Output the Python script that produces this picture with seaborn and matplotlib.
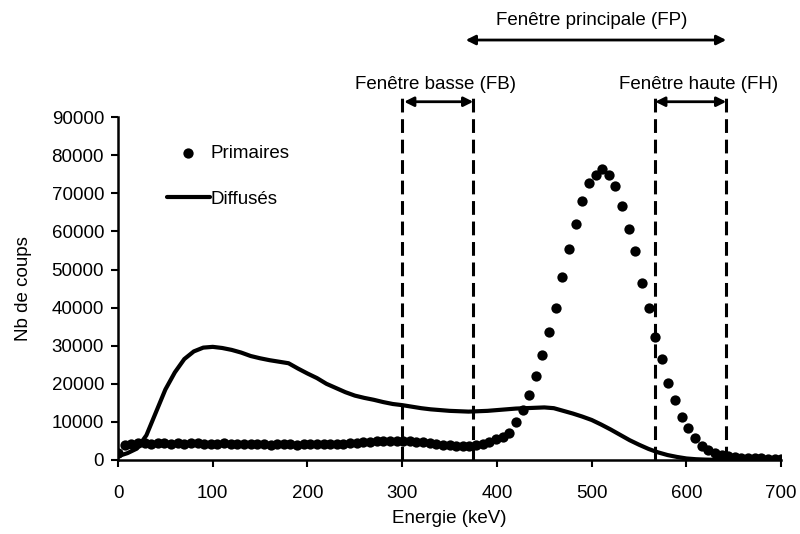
import matplotlib
matplotlib.use("Agg")
import matplotlib.pyplot as plt
import seaborn as sns
import pandas as pd

# ---------------- data ----------------
prim_energy = [0, 7, 14, 21, 28, 35, 42, 49, 56, 63, 70, 77, 84, 91, 98, 105, 112, 119, 126, 133,
               140, 147, 154, 161, 168, 175, 182, 189, 196, 203, 210, 217, 224, 231, 238, 245, 252,
               259, 266, 273, 280, 287, 294, 301, 308, 315, 322, 329, 336, 343, 350, 357, 364, 371,
               378, 385, 392, 399, 406, 413, 420, 427, 434, 441, 448, 455, 462, 469, 476, 483, 490,
               497, 504, 511, 518, 525, 532, 539, 546, 553, 560, 567, 574, 581, 588, 595, 602, 609,
               616, 623, 630, 637, 644, 651, 658, 665, 672, 679, 686, 693, 700]
prim_counts = [1800, 4000, 4300, 4400, 4500, 4300, 4400, 4500, 4200, 4400, 4300, 4500, 4400, 4300,
               4200, 4300, 4400, 4200, 4100, 4300, 4200, 4100, 4200, 4000, 4100, 4200, 4100, 4000,
               4100, 4200, 4100, 4200, 4300, 4200, 4300, 4400, 4500, 4600, 4700, 4900, 5000, 5100,
               5000, 5100, 4900, 4800, 4600, 4400, 4200, 4000, 3900, 3800, 3700, 3800, 4000, 4300,
               4800, 5400, 6000, 7200, 10000, 13000, 17000, 22000, 27500, 33500, 40000, 48000,
               55500, 62000, 68000, 72800, 74800, 76400, 74800, 72000, 66700, 60600, 54900, 46400,
               39900, 32300, 26500, 20200, 15700, 11300, 8400, 5800, 3700, 2600, 1800, 1300, 1000,
               800, 650, 550, 450, 400, 350, 300, 300]

diff_energy = [0, 10, 20, 30, 40, 50, 60, 70, 80, 90, 100, 110, 120, 130, 140, 150, 160, 170, 180,
               190, 200, 210, 220, 230, 240, 250, 260, 270, 280, 290, 300, 310, 320, 330, 340, 350,
               360, 370, 380, 390, 400, 410, 420, 430, 440, 450, 460, 470, 480, 490, 500, 510, 520,
               530, 540, 550, 560, 570, 580, 590, 600, 610, 620, 630, 640, 650, 660, 670, 680, 690, 700]
diff_counts = [1000, 1800, 3000, 6500, 12500, 18500, 23000, 26500, 28500, 29500, 29700, 29400,
               28900, 28200, 27300, 26700, 26200, 25800, 25400, 24000, 22700, 21500, 20000, 18900,
               17800, 16900, 16300, 15800, 15200, 14700, 14400, 14000, 13600, 13300, 13100, 12900,
               12800, 12700, 12800, 12900, 13100, 13300, 13500, 13600, 13700, 13800, 13600, 12900,
               12200, 11400, 10500, 9300, 8000, 6600, 5200, 4000, 2900, 2000, 1300, 800, 400, 200,
               100, 50, 30, 20, 10, 0, 0, 0, 0]

window_edges = [300, 375, 567, 642]
x_ticks = [0, 100, 200, 300, 400, 500, 600, 700]
y_ticks = [0, 10000, 20000, 30000, 40000, 50000, 60000, 70000, 80000, 90000]

# ---------------- style ----------------
sns.set_theme(style="white")
plt.rcParams['font.family'] = ['Liberation Sans', 'DejaVu Sans']
plt.rcParams['text.color'] = 'black'
plt.rcParams['axes.labelcolor'] = 'black'
FS = 13.5

prim_df = pd.DataFrame({"E": prim_energy, "N": prim_counts})
diff_df = pd.DataFrame({"E": diff_energy, "N": diff_counts})

fig = plt.figure(figsize=(8, 5.34), dpi=100)
ax = fig.add_axes([0.1475, 0.1386, 0.829, 0.642])

sns.lineplot(data=diff_df, x="E", y="N", ax=ax, color="black", linewidth=3.0,
             label="Diffusés", zorder=3)
sns.scatterplot(data=prim_df, x="E", y="N", ax=ax, color="black", s=55,
                edgecolor="black", linewidth=0, label="Primaires", zorder=4)

ax.set_xlim(0, 700)
ax.set_ylim(0, 90000)
ax.set_xticks(x_ticks)
ax.set_yticks(y_ticks)
ax.tick_params(axis="both", labelsize=FS, length=5, width=1.5, direction="out",
               colors="black", pad=5)
ax.tick_params(axis="x", bottom=True, pad=13)
ax.tick_params(axis="y", left=True)
for side in ["top", "right"]:
    ax.spines[side].set_visible(False)
for side in ["left", "bottom"]:
    ax.spines[side].set_color("black")
    ax.spines[side].set_linewidth(1.8)

ax.set_xlabel("Energie (keV)", fontsize=FS, labelpad=6, color="black")
ax.set_ylabel("Nb de coups", fontsize=FS, labelpad=14, color="black")

# legend (order: Primaires, Diffusés)
handles, labels = ax.get_legend_handles_labels()
order = [labels.index("Primaires"), labels.index("Diffusés")]
leg = ax.legend([handles[i] for i in order], [labels[i] for i in order],
                loc="upper left", bbox_to_anchor=(0.062, 0.94), frameon=False,
                fontsize=FS, handlelength=2.3, handletextpad=0.05, labelspacing=1.5,
                borderaxespad=0)
for t in leg.get_texts():
    t.set_color("black")

# window lines
trans = ax.get_xaxis_transform()
for xe in window_edges:
    ax.plot([xe, xe], [0, 1.055], transform=trans, color="black", linewidth=2.2,
            linestyle=(0, (4.5, 2.2)), clip_on=False, zorder=5)

arrow_kw = dict(arrowstyle="<|-|>", color="black", lw=2.0, mutation_scale=14,
                shrinkA=0, shrinkB=0)
ax.annotate("", xy=(window_edges[0] + 2, 1.045), xytext=(window_edges[1], 1.045),
            xycoords=trans, textcoords=trans, arrowprops=arrow_kw, annotation_clip=False)
ax.annotate("", xy=(window_edges[2], 1.045), xytext=(window_edges[3], 1.045),
            xycoords=trans, textcoords=trans, arrowprops=arrow_kw, annotation_clip=False)
ax.annotate("", xy=(367, 1.225), xytext=(642, 1.225),
            xycoords=trans, textcoords=trans, arrowprops=arrow_kw, annotation_clip=False)

ax.text(335, 1.095, "Fenêtre basse (FB)", transform=trans, ha="center", va="center",
        fontsize=FS, color="black")
ax.text(613, 1.095, "Fenêtre haute (FH)", transform=trans, ha="center", va="center",
        fontsize=FS, color="black")
ax.text(500, 1.283, "Fenêtre principale (FP)", transform=trans, ha="center", va="center",
        fontsize=FS, color="black")

fig.savefig("out.png", dpi=100)
